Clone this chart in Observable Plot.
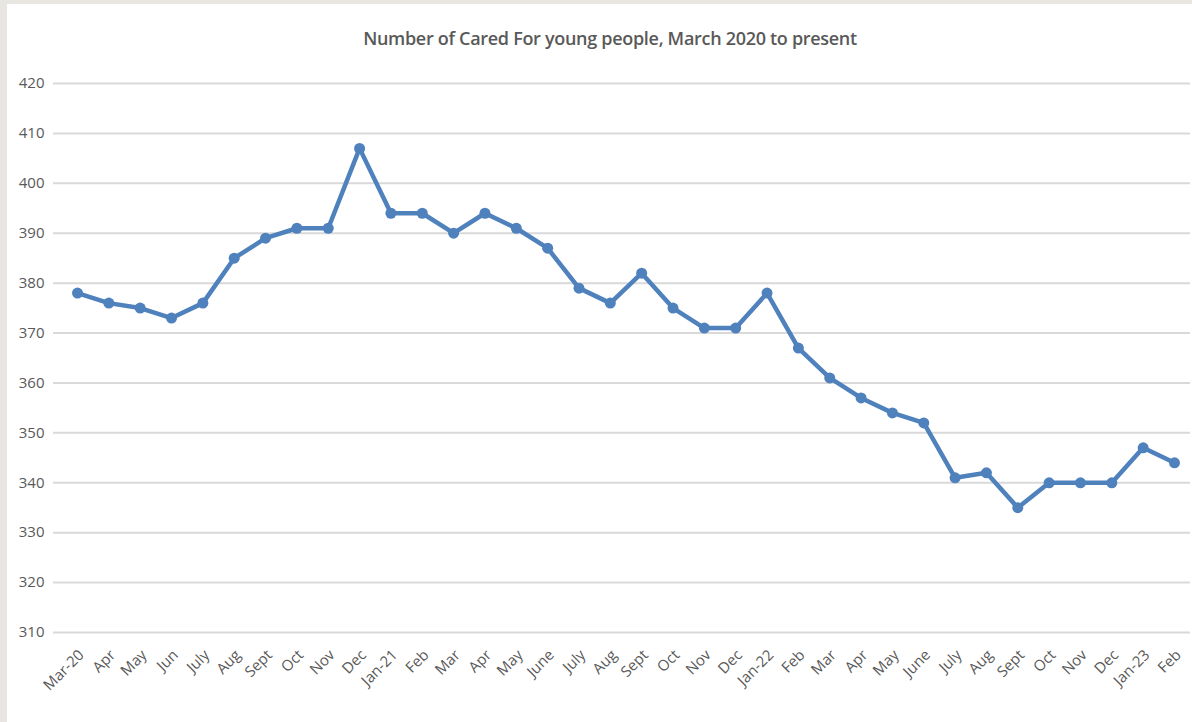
<!DOCTYPE html>
<html>
<head>
<meta charset="utf-8">
<script src="https://cdn.jsdelivr.net/npm/d3@7"></script>
<script src="https://cdn.jsdelivr.net/npm/@observablehq/plot@0.6"></script>
<style>
  html, body { margin: 0; padding: 0; background: #ffffff; width: 1192px; height: 722px; overflow: hidden; }
  #strip-left { position: absolute; left: 0; top: 0; width: 7px; height: 722px; background: #e7e6e0; }
  #strip-top { position: absolute; left: 0; top: 0; width: 1192px; height: 4px; background: #e7e6e0; }
  #title { position: absolute; left: 0; top: 26px; width: 1220px; text-align: center;
           font-family: "Open Sans", sans-serif; font-size: 18px; font-weight: 600; color: #595959; letter-spacing: -0.3px; }
  #chart { position: absolute; left: 0; top: 60px; }
</style>
</head>
<body>
<div id="strip-left"></div>
<div id="strip-top"></div>
<div id="title">Number of Cared For young people, March 2020 to present</div>
<div id="chart"></div>
<script>
const months = ["Mar-20","Apr","May","Jun","July","Aug","Sept","Oct","Nov","Dec",
  "Jan-21","Feb","Mar","Apr","May","June","July","Aug","Sept","Oct","Nov","Dec",
  "Jan-22","Feb","Mar","Apr","May","June","July","Aug","Sept","Oct","Nov","Dec",
  "Jan-23","Feb"];
const values = [378,376,375,373,376,385,389,391,391,407,
  394,394,390,394,391,387,379,376,382,375,371,371,
  378,367,361,357,354,352,341,342,335,340,340,340,
  347,344];
const yTicks = [310,320,330,340,350,360,370,380,390,400,410,420];

const data = months.map((m, i) => ({idx: i, label: m, value: values[i]}));

const chart = Plot.plot({
  width: 1192,
  height: 662,
  marginLeft: 53,
  marginRight: 2,
  marginTop: 23,
  marginBottom: 90,
  style: {background: "transparent", fontFamily: "Open Sans, sans-serif", color: "#595959"},
  x: {type: "linear", domain: [0, months.length - 1], range: [77, 1174]},
  y: {domain: [310, 420], range: [572, 23]},
  marks: [
    Plot.ruleY(yTicks, {stroke: "#d9d9d9", strokeWidth: 2}),
    Plot.axisY({ticks: yTicks, tickSize: 0, tickPadding: 9, fontSize: 15, fill: "#595959", anchor: "left", label: null}),
    Plot.axisX({ticks: d3.range(months.length), tickFormat: i => months[i], tickSize: 0, tickPadding: 12,
      dx: 4, dy: 8, tickRotate: -45, fontSize: 15, fill: "#595959", label: null}),
    Plot.line(data, {x: "idx", y: "value", stroke: "#4f81bd", strokeWidth: 4.5}),
    Plot.dot(data, {x: "idx", y: "value", fill: "#4f81bd", r: 5.5})
  ]
});
document.getElementById("chart").appendChild(chart);
</script>
</body>
</html>
